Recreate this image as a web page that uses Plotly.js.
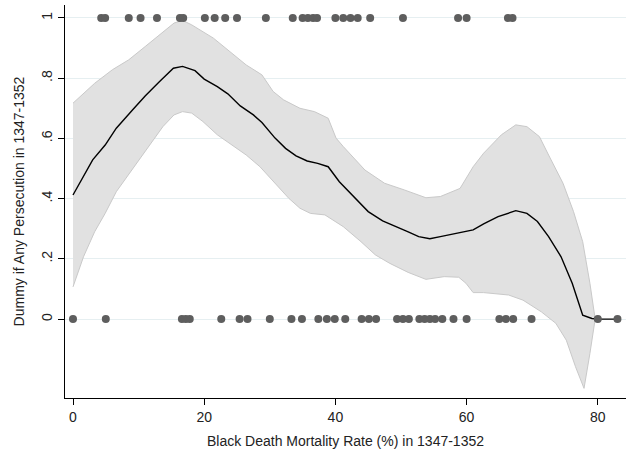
<!DOCTYPE html>
<html>
<head>
<meta charset="utf-8">
<script src="https://cdn.plot.ly/plotly-3.0.1.min.js"></script>
<style>html,body{margin:0;padding:0;background:#fff;}#chart{width:626px;height:452px;}</style>
</head>
<body>
<div id="chart"></div>
<script>
// Observations: persecution dummy = 1
const mortalityPersecuted = [4.3, 4.9, 8.5, 10.3, 12.8, 16.3, 16.8, 20.1, 21.6, 23.2, 25.0, 29.4, 33.5, 35.0, 35.8, 36.6, 37.2, 40.0, 41.2, 42.3, 43.4, 45.3, 50.3, 58.7, 60.0, 66.3, 67.0];
// Observations: persecution dummy = 0
const mortalityNotPersecuted = [0, 5.0, 16.6, 17.2, 17.8, 22.6, 25.4, 26.6, 30.0, 33.3, 34.9, 37.4, 38.7, 39.9, 41.5, 44.0, 45.1, 46.2, 49.4, 50.3, 51.2, 52.8, 53.6, 54.4, 55.2, 56.3, 58.0, 60.0, 65.0, 66.0, 67.1, 69.9, 80.0, 83.0];

// Local polynomial fit
const fitX = [0, 3.0, 4.9, 6.6, 9.1, 11.0, 13.2, 15.3, 16.7, 18.6, 20.0, 22.0, 23.6, 25.5, 27.5, 28.8, 30.8, 32.4, 34.0, 35.7, 37.3, 38.9, 40.6, 42.8, 45.0, 47.2, 49.4, 51.1, 52.7, 54.4, 56.0, 58.2, 61.0, 62.6, 64.8, 67.5, 69.2, 70.8, 72.5, 74.4, 76.1, 77.7, 79.1, 80.0, 83.0];
const fitY = [0.412, 0.529, 0.578, 0.634, 0.695, 0.741, 0.789, 0.833, 0.839, 0.825, 0.797, 0.772, 0.748, 0.708, 0.678, 0.653, 0.601, 0.567, 0.542, 0.525, 0.517, 0.506, 0.456, 0.407, 0.357, 0.326, 0.307, 0.290, 0.274, 0.267, 0.274, 0.283, 0.296, 0.316, 0.340, 0.360, 0.351, 0.324, 0.274, 0.207, 0.119, 0.013, 0.002, 0, 0];

// Upper confidence bound
const upperX = [0, 3.3, 6.0, 8.5, 11.0, 13.2, 15.4, 16.7, 18.1, 21.4, 23.6, 26.4, 28.8, 30.5, 32.1, 34.6, 36.8, 38.9, 40.1, 41.2, 44.5, 47.5, 50.5, 53.8, 56.0, 59.0, 61.0, 62.6, 65.3, 67.5, 69.2, 71.1, 72.5, 74.7, 76.3, 77.7, 78.8, 79.6];
const upperY = [0.717, 0.783, 0.828, 0.861, 0.905, 0.944, 0.983, 0.992, 0.977, 0.933, 0.894, 0.844, 0.811, 0.756, 0.728, 0.700, 0.689, 0.667, 0.601, 0.573, 0.495, 0.451, 0.429, 0.403, 0.407, 0.434, 0.506, 0.551, 0.612, 0.645, 0.639, 0.606, 0.545, 0.451, 0.357, 0.257, 0.119, 0.0];

// Lower confidence bound
const lowerX = [0, 1.6, 3.3, 4.9, 6.6, 8.8, 11.5, 13.7, 15.4, 16.7, 18.1, 19.8, 22.0, 24.2, 26.4, 28.5, 30.8, 32.9, 34.6, 36.2, 38.4, 41.2, 43.9, 46.1, 48.3, 51.1, 53.8, 56.6, 58.8, 59.9, 61.0, 62.6, 66.4, 68.6, 71.4, 73.6, 75.2, 76.6, 77.9, 78.8, 79.6];
const lowerY = [0.107, 0.207, 0.290, 0.351, 0.423, 0.490, 0.573, 0.639, 0.678, 0.689, 0.684, 0.656, 0.612, 0.578, 0.545, 0.506, 0.451, 0.401, 0.368, 0.351, 0.346, 0.307, 0.257, 0.213, 0.185, 0.155, 0.132, 0.141, 0.139, 0.119, 0.088, 0.088, 0.080, 0.063, 0.024, -0.014, -0.070, -0.158, -0.230, -0.114, 0.0];

const xTickVals = [0, 20, 40, 60, 80];
const yTickVals = [0, 0.2, 0.4, 0.6, 0.8, 1];
const yTickText = ['0', '.2', '.4', '.6', '.8', '1'];

const bandX = upperX.concat(lowerX.slice().reverse());
const bandY = upperY.concat(lowerY.slice().reverse());

const font = 'Liberation Sans, Arial, sans-serif';

const traces = [
  {x: bandX, y: bandY, type: 'scatter', mode: 'lines', fill: 'toself',
   fillcolor: '#e1e1e1', line: {color: '#c9c9c9', width: 1}, hoverinfo: 'skip', showlegend: false},
  {x: fitX, y: fitY, type: 'scatter', mode: 'lines',
   line: {color: '#000000', width: 1.4}, showlegend: false},
  {x: mortalityPersecuted, y: mortalityPersecuted.map(() => 1), type: 'scatter', mode: 'markers',
   marker: {color: '#5e5e5e', size: 8}, showlegend: false},
  {x: mortalityNotPersecuted, y: mortalityNotPersecuted.map(() => 0), type: 'scatter', mode: 'markers',
   marker: {color: '#5e5e5e', size: 8}, showlegend: false}
];

const layout = {
  width: 626, height: 452,
  margin: {l: 65, r: 0, t: 5, b: 54},
  paper_bgcolor: '#ffffff', plot_bgcolor: '#ffffff',
  font: {family: font, size: 14, color: '#222222'},
  xaxis: {
    range: [-1.22, 84.3], tickvals: xTickVals, ticks: 'outside', ticklen: 6, tickcolor: '#000',
    showline: true, linecolor: '#000', linewidth: 1, showgrid: false, zeroline: false,
    tickfont: {size: 14, color: '#222'},
    title: {text: 'Black Death Mortality Rate (%) in 1347-1352', font: {size: 14, color: '#222'}, standoff: 12}
  },
  yaxis: {
    range: [-0.262, 1.043], tickvals: yTickVals, ticktext: yTickText, tickangle: -90,
    ticks: 'outside', ticklen: 6, tickcolor: '#000',
    showline: true, linecolor: '#000', linewidth: 1, showgrid: true, gridcolor: '#e6eff1', gridwidth: 1,
    zeroline: false, tickfont: {size: 14, color: '#222'},
    title: {text: 'Dummy if Any Persecution in 1347-1352', font: {size: 14, color: '#222'}, standoff: 11}
  },
  showlegend: false
};

Plotly.newPlot('chart', traces, layout, {displayModeBar: false, staticPlot: true});
</script>
</body>
</html>
